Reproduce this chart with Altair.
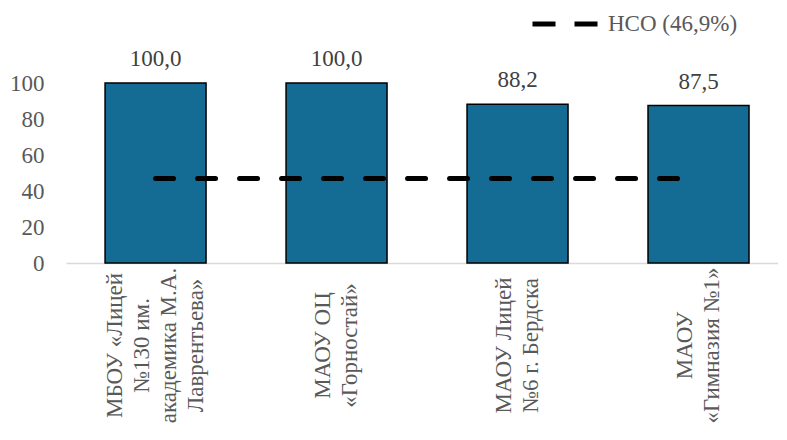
import altair as alt
import pandas as pd

categories = [
    "МБОУ «Лицей\n№130 им.\nакадемика М.А.\nЛаврентьева»",
    "МАОУ ОЦ\n«Горностай»",
    "МАОУ Лицей\n№6 г. Бердска",
    "МАОУ\n«Гимназия №1»",
]
values = [100.0, 100.0, 88.2, 87.5]
nso_value = 46.9
nso_label = "НСО (46,9%)"
y_ticks = [0, 20, 40, 60, 80, 100]

FONT = "Liberation Serif"
AXIS_GRAY = "#595959"
FS = 23
LH = 27

df = pd.DataFrame({"cat": categories, "value": values})
df["label"] = [f"{v:.1f}".replace(".", ",") for v in values]
line_df = pd.DataFrame({"cat": categories, "nso": [nso_value] * len(categories), "series": [nso_label] * len(categories)})

x_scale = alt.Scale(paddingInner=0.442, paddingOuter=0.188, align=0.574)
y_scale = alt.Scale(domain=[0, 100], nice=False)

x_axis = alt.Axis(
    title=None,
    labelAngle=-90,
    labelAlign="center",
    labelBaseline="middle",
    labelPadding=82,
    labelLineHeight=LH,
    labelExpr="split(datum.value, '\\n')",
    labelOffset={
        "condition": [
            {"test": "length(split(datum.value, '\\n')) >= 4", "value": -1.5 * LH},
            {"test": "length(split(datum.value, '\\n')) == 3", "value": -1.0 * LH},
        ],
        "value": -0.5 * LH,
    },
    labelFont=FONT,
    labelFontSize=FS,
    labelColor=AXIS_GRAY,
    labelOverlap=False,
    labelLimit=0,
    ticks=False,
    grid=False,
    domain=True,
    domainColor="#d9d9d9",
    domainWidth=1.5,
)

y_axis = alt.Axis(
    title=None,
    values=y_ticks,
    tickCount=6,
    labelOverlap=False,
    labelSeparation=0,
    labelBound=False,
    labelFlush=False,
    labelFont=FONT,
    labelFontSize=FS,
    labelColor=AXIS_GRAY,
    labelPadding=22,
    labelBaseline="middle",
    ticks=False,
    grid=False,
    domain=False,
)

x_enc = alt.X("cat:N", sort=categories, scale=x_scale, title=None, axis=x_axis)
y_enc_bar = alt.Y("value:Q", scale=y_scale, title=None, axis=y_axis)

bars = alt.Chart(df).mark_bar(color="#146c94", stroke="#000000", strokeWidth=1.5).encode(
    x=x_enc,
    y=y_enc_bar,
)

texts = alt.Chart(df).mark_text(
    font=FONT, fontSize=FS, color="#404040", baseline="alphabetic", dy=-17
).encode(
    x=x_enc,
    y=y_enc_bar,
    text="label:N",
)

line = alt.Chart(line_df).mark_line(
    strokeWidth=5, strokeDash=[18, 24], strokeCap="round"
).encode(
    x=x_enc,
    y=alt.Y("nso:Q", scale=y_scale, title=None, axis=y_axis),
    color=alt.Color(
        "series:N",
        scale=alt.Scale(range=["#000000"]),
        legend=alt.Legend(
            title=None,
            orient="none",
            legendX=464,
            legendY=-94,
            symbolType="stroke",
            symbolSize=4225,
            symbolStrokeWidth=5,
            symbolDash=[23, 19],
            symbolStrokeColor="#000000",
            labelFont=FONT,
            labelFontSize=FS,
            labelColor=AXIS_GRAY,
            labelOffset=8,
            padding=0,
        ),
    ),
)

chart = alt.layer(bars, line, texts).properties(
    width=712,
    height=180,
    background="#ffffff",
    autosize=alt.AutoSizeParams(type="none"),
    padding={"left": 58, "top": 75, "right": 0, "bottom": 169},
).configure_view(
    strokeWidth=0, stroke="transparent"
).configure_axis(
    labelOverlap=False,
)

chart.save("out.html", embed_options={"renderer": "svg", "actions": False})
